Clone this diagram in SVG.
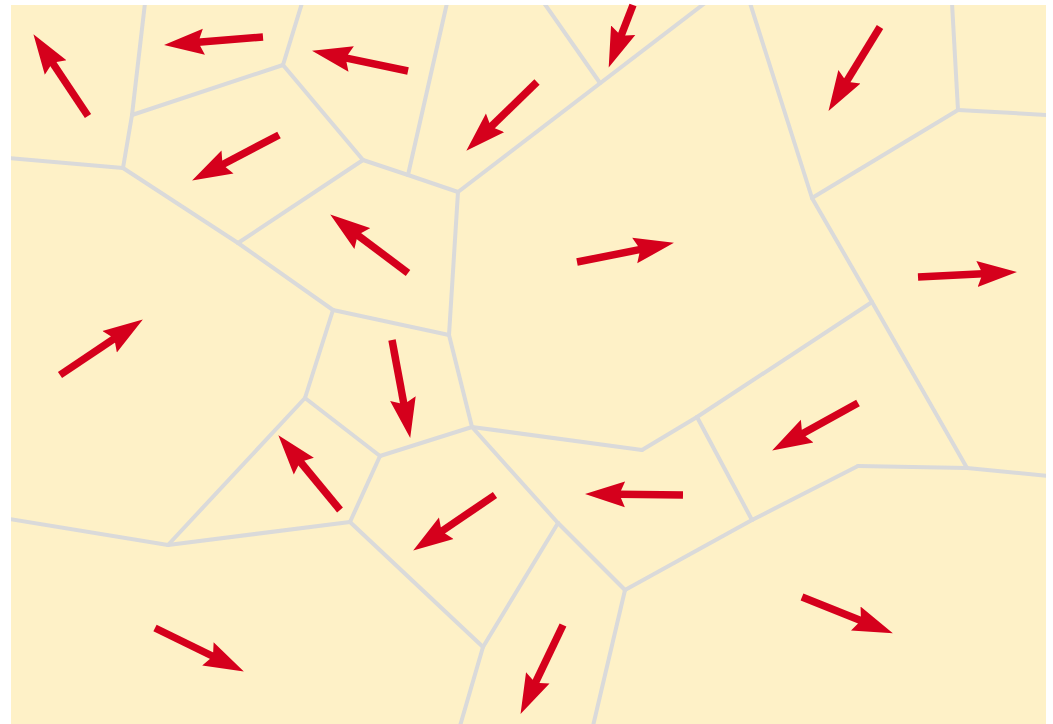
<svg xmlns="http://www.w3.org/2000/svg" width="1053" height="724" viewBox="0 0 1053 724">
<style>
.edge{stroke:#dadada;stroke-width:4;stroke-linecap:round;fill:none}
.arrow{stroke:#d5001c;stroke-width:7.5;fill:none}
</style>
<defs>
<marker id="head" markerUnits="userSpaceOnUse" markerWidth="42" markerHeight="28" viewBox="0 -14 42 28" refX="6" refY="0" orient="auto">
<path d="M40,0 L0,-13 L4,-3.8 L4,3.8 L0,13 Z" fill="#d5001c"/>
</marker>
<clipPath id="panel"><rect x="11" y="5" width="1035" height="719"/></clipPath>
</defs>
<rect width="1053" height="724" fill="#ffffff"/>
<rect x="11" y="5" width="1035" height="719" fill="#fef1c7"/>
<g id="edges" class="edge" clip-path="url(#panel)">
<line x1="145" y1="3" x2="132" y2="115"/>
<line x1="132" y1="115" x2="123" y2="168"/>
<line x1="9" y1="158" x2="123" y2="168"/>
<line x1="132" y1="115" x2="283" y2="65"/>
<line x1="283" y1="65" x2="302" y2="3"/>
<line x1="283" y1="65" x2="363" y2="160"/>
<line x1="123" y1="168" x2="238" y2="243"/>
<line x1="238" y1="243" x2="363" y2="160"/>
<line x1="363" y1="160" x2="408" y2="175"/>
<line x1="408" y1="175" x2="447" y2="3"/>
<line x1="408" y1="175" x2="458" y2="192"/>
<line x1="458" y1="192" x2="705" y2="3"/>
<line x1="544" y1="3" x2="600" y2="83"/>
<line x1="458" y1="192" x2="449" y2="335"/>
<line x1="238" y1="243" x2="333" y2="310"/>
<line x1="333" y1="310" x2="449" y2="335"/>
<line x1="333" y1="310" x2="305" y2="398"/>
<line x1="449" y1="335" x2="472" y2="427"/>
<line x1="305" y1="398" x2="168" y2="545"/>
<line x1="305" y1="398" x2="380" y2="456"/>
<line x1="380" y1="456" x2="472" y2="427"/>
<line x1="380" y1="456" x2="350" y2="522"/>
<line x1="472" y1="427" x2="642" y2="450"/>
<line x1="472" y1="427" x2="558" y2="523"/>
<line x1="642" y1="450" x2="697" y2="417"/>
<line x1="697" y1="417" x2="872" y2="302"/>
<line x1="697" y1="417" x2="752" y2="520"/>
<line x1="750" y1="3" x2="812" y2="198"/>
<line x1="812" y1="198" x2="958" y2="110"/>
<line x1="958" y1="110" x2="952" y2="3"/>
<line x1="958" y1="110" x2="1048" y2="115"/>
<line x1="812" y1="198" x2="872" y2="302"/>
<line x1="872" y1="302" x2="967" y2="468"/>
<line x1="967" y1="468" x2="1048" y2="476"/>
<line x1="967" y1="468" x2="858" y2="466"/>
<line x1="858" y1="466" x2="752" y2="520"/>
<line x1="752" y1="520" x2="625" y2="590"/>
<line x1="625" y1="590" x2="558" y2="523"/>
<line x1="625" y1="590" x2="593" y2="726"/>
<line x1="558" y1="523" x2="483" y2="647"/>
<line x1="483" y1="647" x2="460" y2="726"/>
<line x1="483" y1="647" x2="350" y2="522"/>
<line x1="350" y1="522" x2="168" y2="545"/>
<line x1="168" y1="545" x2="9" y2="519"/>
</g>
<g id="arrows" class="arrow" marker-end="url(#head)">
<line id="a1" x1="88" y1="116" x2="52.3" y2="62.5"/>
<line id="a2" x1="263" y1="37" x2="197.9" y2="42.3"/>
<line id="a3" x1="408" y1="71" x2="345.3" y2="57.8"/>
<line id="a4" x1="537" y1="82" x2="490.7" y2="127"/>
<line id="a5" x1="633" y1="5" x2="621" y2="35.9"/>
<line id="a6" x1="880" y1="27" x2="846.3" y2="81.9"/>
<line id="a7" x1="279" y1="135" x2="222.2" y2="164.7"/>
<line id="a8" x1="408" y1="273" x2="357.4" y2="234.9"/>
<line id="a9" x1="577" y1="262" x2="640.6" y2="249.4"/>
<line id="a10" x1="918" y1="277" x2="983" y2="273.7"/>
<line id="a11" x1="60" y1="375" x2="114.6" y2="338.4"/>
<line id="a12" x1="392" y1="340" x2="404" y2="404.6"/>
<line id="a13" x1="858" y1="403" x2="801.9" y2="434"/>
<line id="a14" x1="340" y1="510" x2="300" y2="461.5"/>
<line id="a15" x1="495" y1="495" x2="441.3" y2="531.5"/>
<line id="a16" x1="683" y1="495" x2="619" y2="494.3"/>
<line id="a17" x1="155" y1="628" x2="213.3" y2="656.5"/>
<line id="a18" x1="563" y1="625" x2="535.2" y2="683.2"/>
<line id="a19" x1="802" y1="597" x2="861.3" y2="620.7"/>
</g>
</svg>
